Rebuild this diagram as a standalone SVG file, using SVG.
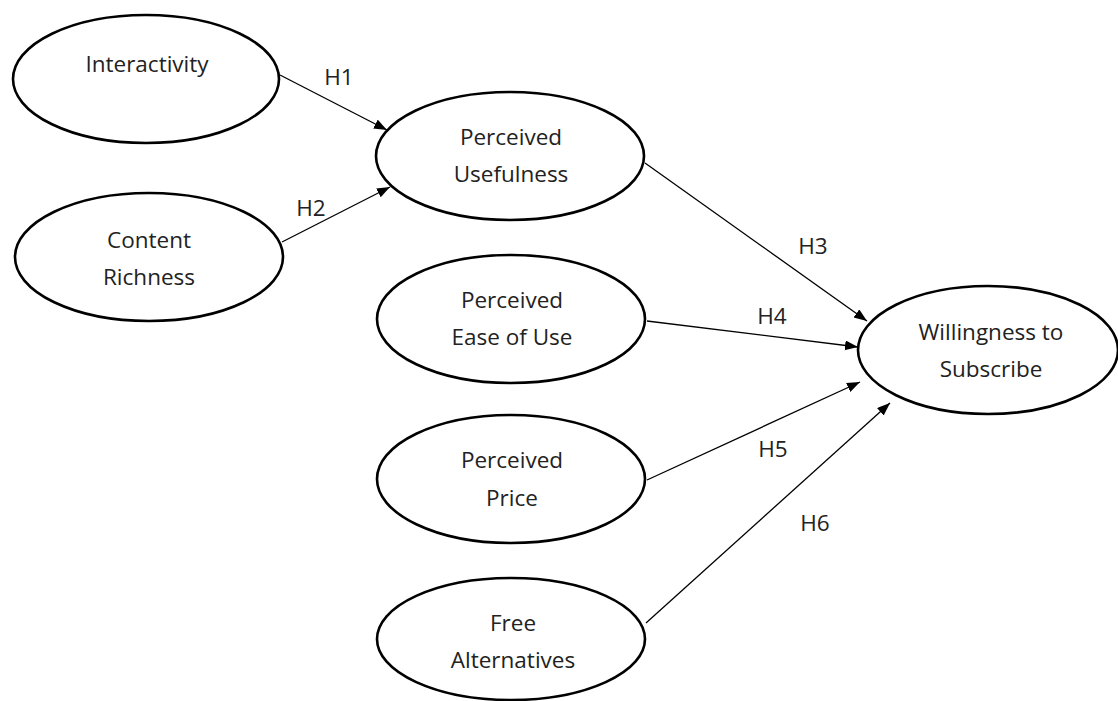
<svg xmlns="http://www.w3.org/2000/svg" width="1118" height="701" viewBox="0 0 1118 701">
<style>
.node ellipse{fill:#fff;stroke:#000;stroke-width:2.6}
.node text{font-family:"Open Sans","Noto Sans",sans-serif;font-size:22.5px;fill:#222;text-anchor:middle}
.edges line{stroke:#000;stroke-width:1.3}
.lbl{font-family:"Open Sans","Noto Sans",sans-serif;font-size:22.5px;fill:#222;text-anchor:middle}
</style>
<defs>
<marker id="ah" markerUnits="userSpaceOnUse" markerWidth="14" markerHeight="12" refX="13" refY="5" orient="auto">
<path d="M0,0 L13,5 L0,10 Z" fill="#000"/>
</marker>
</defs>
<rect width="1118" height="701" fill="#fff"/>
<g class="edges">
<line x1="280" y1="75" x2="387" y2="130" marker-end="url(#ah)"/>
<line x1="282" y1="242" x2="390" y2="187" marker-end="url(#ah)"/>
<line x1="645" y1="163" x2="867" y2="321" marker-end="url(#ah)"/>
<line x1="647" y1="321" x2="858" y2="347" marker-end="url(#ah)"/>
<line x1="647" y1="480" x2="860" y2="382" marker-end="url(#ah)"/>
<line x1="646" y1="623" x2="890" y2="403" marker-end="url(#ah)"/>
<text class="lbl" x="339" y="85">H1</text>
<text class="lbl" x="311" y="216">H2</text>
<text class="lbl" x="813" y="254">H3</text>
<text class="lbl" x="772" y="324">H4</text>
<text class="lbl" x="773" y="457">H5</text>
<text class="lbl" x="815" y="531">H6</text>
</g>
<g class="node" id="interactivity">
<ellipse cx="146" cy="79" rx="133" ry="64"/>
<text x="147" y="72">Interactivity</text>
</g>
<g class="node" id="content-richness">
<ellipse cx="149" cy="257" rx="134" ry="64"/>
<text x="149" y="248">Content</text>
<text x="149" y="285">Richness</text>
</g>
<g class="node" id="perceived-usefulness">
<ellipse cx="510" cy="156" rx="134" ry="64"/>
<text x="511" y="145">Perceived</text>
<text x="511" y="182">Usefulness</text>
</g>
<g class="node" id="perceived-ease">
<ellipse cx="511" cy="319" rx="134" ry="64"/>
<text x="512" y="308">Perceived</text>
<text x="512" y="345">Ease of Use</text>
</g>
<g class="node" id="perceived-price">
<ellipse cx="511" cy="479" rx="134" ry="64"/>
<text x="512" y="468">Perceived</text>
<text x="512" y="506">Price</text>
</g>
<g class="node" id="free-alternatives">
<ellipse cx="511" cy="639" rx="134" ry="61"/>
<text x="513" y="631">Free</text>
<text x="513" y="668">Alternatives</text>
</g>
<g class="node" id="willingness">
<ellipse cx="988" cy="350" rx="130" ry="64"/>
<text x="991" y="340">Willingness to</text>
<text x="991" y="377">Subscribe</text>
</g>
</svg>
